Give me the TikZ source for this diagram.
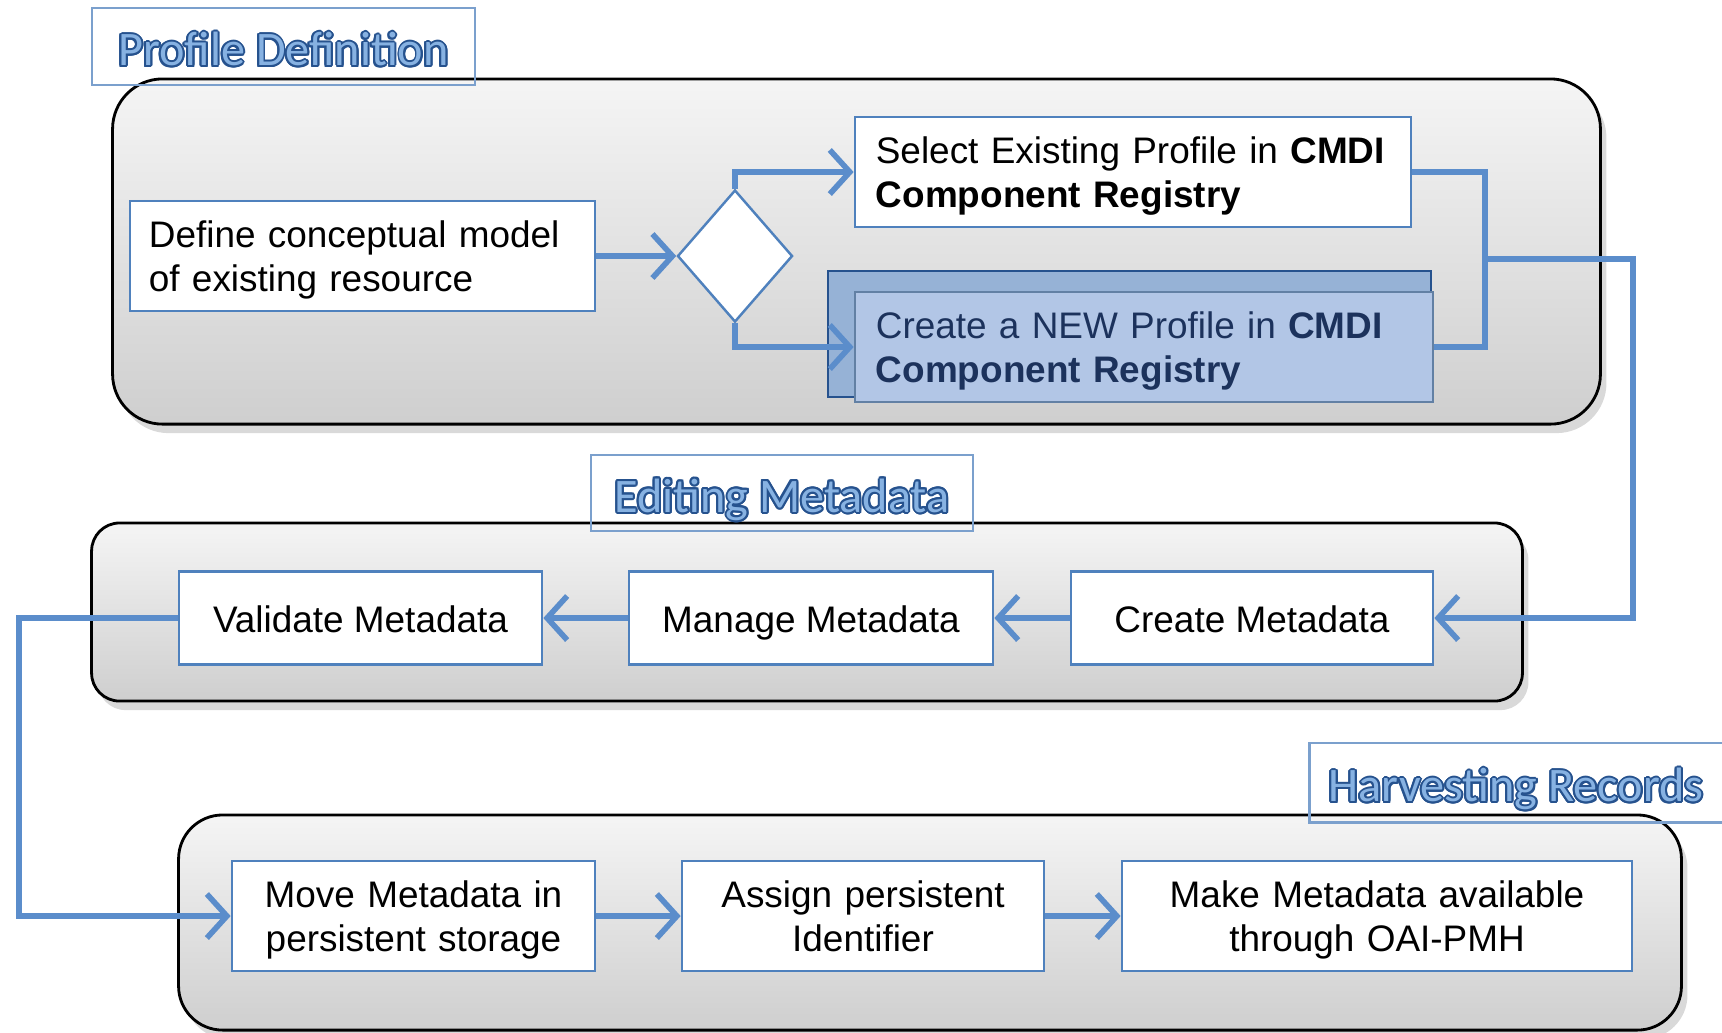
\documentclass[tikz,border=0pt]{standalone}
\usepackage{fontspec}
\setmainfont{Liberation Sans}
\newfontfamily\titlefont{Carlito}
\usepackage[copies]{contour}
\contourlength{0.55pt}
\usetikzlibrary{shapes.geometric,arrows.meta,shadows}

\definecolor{flowblue}{RGB}{91,141,203}
\definecolor{boxblue}{RGB}{79,129,189}
\definecolor{titlefill}{RGB}{135,178,226}
\definecolor{titleline}{RGB}{38,82,142}
\definecolor{newback}{RGB}{150,178,214}
\definecolor{newfront}{RGB}{178,198,230}
\definecolor{navy}{RGB}{28,50,92}

\newcommand{\phasetitle}[1]{\contour{titleline}{\textcolor{titlefill}{#1}}}

\tikzset{
  phase/.style      = {rectangle, draw=black, line width=0.8pt,
                       top color=gray!8, bottom color=gray!38,
                       drop shadow={shadow xshift=0.6mm, shadow yshift=-0.9mm, opacity=0.3}},
  phaselabel/.style = {rectangle, draw=boxblue!75, line width=0.7pt,
                       text height=12pt, text depth=1pt,
                       font=\titlefont\fontsize{13.7}{16}\selectfont},
  labelframe/.style = {draw=boxblue!75, line width=0.7pt},
  stepbox/.style    = {rectangle, draw=boxblue, fill=white, line width=0.7pt,
                       align=center, inner sep=0pt,
                       font=\fontsize{10.5}{12.5}\selectfont},
  oneline/.style    = {text height=8.2pt, text depth=0pt},
  twoline/.style    = {text height=5pt, text depth=10pt},
  leftbox/.style    = {stepbox, twoline, align=left},
  newbox/.style     = {leftbox, fill=newfront, draw=boxblue!60!gray, text=navy},
  choice/.style     = {diamond, draw=boxblue, fill=white, line width=0.7pt, inner sep=0pt},
  link/.style       = {draw=flowblue, line width=1.6pt},
  flow/.style       = {link, -{Straight Barb[length=2mm,width=4.4mm]}}
}

\begin{document}
\begin{tikzpicture}[x=0.01cm, y=-0.01cm]
  \useasboundingbox (0,0) rectangle (1722,1032);

  % phases
  \node [phase, rounded corners=0.5cm, minimum width=14.87cm, minimum height=3.45cm]
        (profile) at (856.5,251.5) {};
  \node [phase, rounded corners=0.28cm, minimum width=14.30cm, minimum height=1.78cm]
        (editing) at (807,612) {};
  \node [phase, rounded corners=0.44cm, minimum width=15.02cm, minimum height=2.15cm]
        (harvest) at (930,922.5) {};

  \node [phaselabel, minimum width=3.83cm, minimum height=0.77cm]
        (profilelabel) at (283.5,46.5) {\phasetitle{Profile Definition}};
  \node [phaselabel, minimum width=3.82cm, minimum height=0.76cm]
        (editinglabel) at (782,493) {\phasetitle{Editing Metadata}};
  \node [phaselabel, draw=none, minimum width=4.10cm, minimum height=0.77cm]
        (harvestlabel) at (1516,782.5) {\phasetitle{Harvesting Records}};
  \draw [labelframe] (harvestlabel.north east) ++(40,0) -| (harvestlabel.south west) -- ++(460,0);

  % profile definition
  \node [leftbox, text width=4.27cm, inner xsep=0.19cm, minimum height=1.10cm]
        (define) at (362.5,256) {Define conceptual model\\of existing resource};
  \node [choice, minimum width=1.15cm, minimum height=1.32cm] (choice) at (735,256) {};
  \node [leftbox, text width=5.14cm, inner xsep=0.21cm, minimum height=1.10cm]
        (select) at (1133,172) {Select Existing Profile in \textbf{CMDI}\\\textbf{Component Registry}};
  \draw [fill=newback, draw=titleline, line width=0.8pt] (828,271) rectangle (1431,397);
  \node [newbox, text width=5.36cm, inner xsep=0.21cm, minimum height=1.10cm]
        (newprofile) at (1144,347) {Create a NEW Profile in \textbf{CMDI}\\\textbf{Component Registry}};

  % editing metadata
  \node [stepbox, oneline, minimum width=3.63cm, minimum height=0.93cm] (validate) at (360.5,618) {Validate Metadata};
  \node [stepbox, oneline, minimum width=3.64cm, minimum height=0.93cm] (manage) at (811,618) {Manage Metadata};
  \node [stepbox, oneline, minimum width=3.62cm, minimum height=0.93cm] (createmd) at (1252,618) {Create Metadata};

  % harvesting records
  \node [stepbox, twoline, text width=3.63cm, minimum height=1.10cm] (move) at (413.5,916) {Move Metadata in\\persistent storage};
  \node [stepbox, twoline, text width=3.62cm, minimum height=1.10cm] (assign) at (863,916) {Assign persistent\\Identifier};
  \node [stepbox, twoline, text width=5.10cm, minimum height=1.10cm] (publish) at (1377,916) {Make Metadata available\\through OAI-PMH};

  \coordinate (merge) at (1485,259);
  \coordinate (rightturn) at (1633,259);
  \coordinate (leftturn) at (19,618);

  % connectors
  \draw [flow] (define) -- (choice);
  \draw [flow] (choice.north) |- (select.west);
  \draw [flow] (choice.south) |- (newprofile.west);
  \draw [link] (select.east) -| (merge);
  \draw [link] (newprofile.east) -| (merge);
  \draw [flow] (merge) -- (rightturn) |- (createmd.east);
  \draw [flow] (createmd) -- (manage);
  \draw [flow] (manage) -- (validate);
  \draw [flow] (validate.west) -- (leftturn) |- (move.west);
  \draw [flow] (move) -- (assign);
  \draw [flow] (assign) -- (publish);
\end{tikzpicture}
\end{document}
